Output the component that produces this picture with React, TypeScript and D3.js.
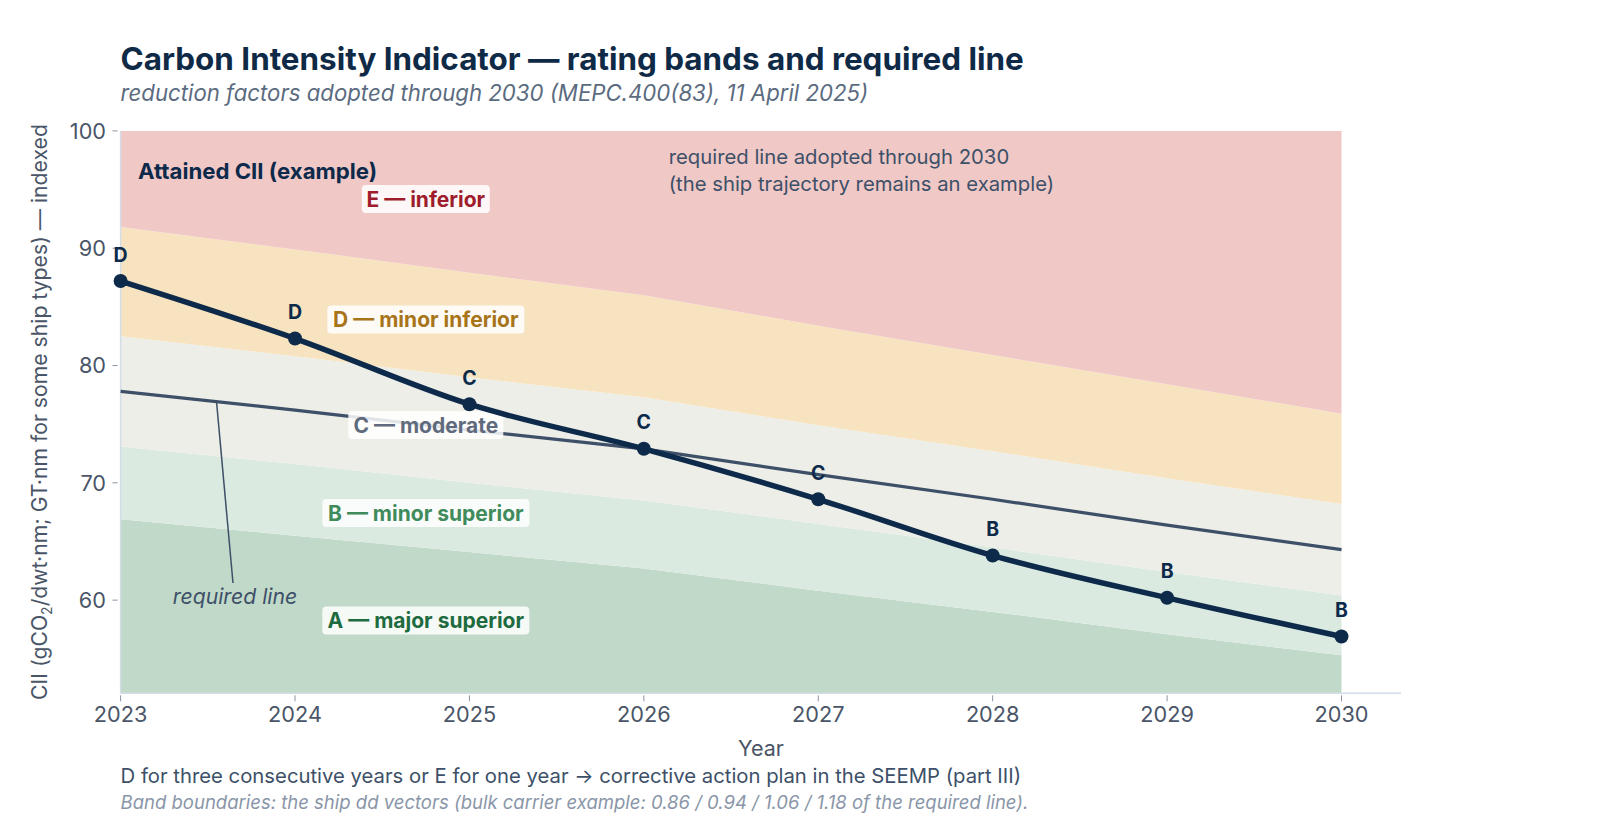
import React from "react";
import * as d3 from "d3";

const years = [2023, 2024, 2025, 2026, 2027, 2028, 2029, 2030];
const requiredLine = [77.8, 76.2, 74.5, 72.9, 70.7, 68.6, 66.4, 64.3];
const boundAB = [66.9, 65.5, 64.1, 62.7, 60.8, 59.0, 57.1, 55.3];
const boundBC = [73.1, 71.6, 70.0, 68.5, 66.5, 64.5, 62.4, 60.4];
const boundCD = [82.5, 80.8, 79.0, 77.3, 74.9, 72.7, 70.4, 68.2];
const boundDE = [91.8, 89.9, 87.9, 86.0, 83.4, 80.9, 78.4, 75.9];
const attained = [87.2, 82.3, 76.7, 72.9, 68.6, 63.8, 60.2, 56.9];
const attainedRating = ["D", "D", "C", "C", "C", "B", "B", "B"];
const yTicks = [60, 70, 80, 90, 100];
const bandNames = ["A — major superior", "B — minor superior", "C — moderate", "D — minor inferior", "E — inferior"];
const bandFills = ["#c1d9c9", "#dbeae0", "#eeeee8", "#f7e3bf", "#f0c8c6"];
const bandTextColors = ["#1e6b40", "#3f8b5b", "#5f6b7c", "#a8741a", "#9e1c2c"];

const W = 1600;
const H = 819;
const FONT = "Inter, 'Noto Sans', sans-serif";

export default function App() {
  const x = d3.scaleLinear().domain([2023, 2030]).range([120.6, 1341.5]);
  const y = d3.scaleLinear().domain([52.06, 100]).range([693.3, 130.9]);
  const yMin = y.domain()[0];
  const yMax = y.domain()[1];
  const [left, bottom, top] = [x(2023), y(yMin), y(yMax)];

  const lower = [years.map(() => yMin), boundAB, boundBC, boundCD, boundDE];
  const upper = [boundAB, boundBC, boundCD, boundDE, years.map(() => yMax)];

  const bandPaths = bandNames.map((_, b) =>
    d3
      .area<number>()
      .x((yr) => x(yr))
      .y0((_, i) => y(lower[b][i]))
      .y1((_, i) => y(upper[b][i]))(years) as string
  );

  const reqPath = d3
    .line<number>()
    .x((_, i) => x(years[i]))
    .y((d) => y(d))(requiredLine) as string;

  const attPath = d3
    .line<number>()
    .x((_, i) => x(years[i]))
    .y((d) => y(d))
    .curve(d3.curveMonotoneX)(attained) as string;

  const labelYear = 2024.75;
  const interp = (arr: number[], yr: number) => {
    const i = Math.floor(yr - 2023);
    const t = yr - 2023 - i;
    return arr[i] * (1 - t) + arr[i + 1] * t;
  };
  const labelW = [207, 207, 155, 197, 128];

  const leaderYear = 2023.55;

  return (
    <svg
      width={W}
      height={H}
      style={{ position: "absolute", left: 0, top: 0, background: "#fff" }}
      fontFamily={FONT}
    >
      <text x={120.6} y={70} fontSize={31.4} fontWeight={700} fill="#0f2a47">
        Carbon Intensity Indicator — rating bands and required line
      </text>
      <text x={120.6} y={101} fontSize={22.2} fontStyle="italic" fill="#5b6b80">
        reduction factors adopted through 2030 (MEPC.400(83), 11 April 2025)
      </text>

      {bandPaths.map((p, i) => (
        <path key={i} d={p} fill={bandFills[i]} />
      ))}

      {/* axes */}
      <line x1={left} x2={left} y1={top} y2={bottom} stroke="#d3dde8" strokeWidth={1.5} />
      <line x1={left} x2={1401} y1={bottom} y2={bottom} stroke="#d3dde8" strokeWidth={1.5} />
      {yTicks.map((t) => (
        <g key={t}>
          <line x1={112.5} x2={117.5} y1={y(t)} y2={y(t)} stroke="#8a94a3" strokeWidth={1} />
          <text x={106} y={y(t)} dy="0.36em" textAnchor="end" fontSize={21.7} fill="#4a5568">
            {t}
          </text>
        </g>
      ))}
      {years.map((t) => (
        <g key={t}>
          <line x1={x(t)} x2={x(t)} y1={bottom + 2} y2={bottom + 8} stroke="#8a94a3" strokeWidth={1} />
          <text x={x(t)} y={722} textAnchor="middle" fontSize={21.7} fill="#4a5568">
            {t}
          </text>
        </g>
      ))}
      <text x={761} y={755.5} textAnchor="middle" fontSize={21.5} fill="#4a5568">
        Year
      </text>
      <text
        transform={`translate(47,412) rotate(-90)`}
        textAnchor="middle"
        fontSize={21.2}
        fill="#4a5568"
      >
        CII (gCO<tspan fontSize={14} dy={5}>2</tspan>
        <tspan dy={-5}>/dwt·nm; GT·nm for some ship types) — indexed</tspan>
      </text>

      {/* required line */}
      <path d={reqPath} fill="none" stroke="#3d5068" strokeWidth={3.2} />

      {/* band labels */}
      {bandNames.map((name, i) => {
        const lo = interp(lower[i], labelYear);
        const hi = interp(upper[i], labelYear);
        const cy = y((lo + hi) / 2);
        const cx = x(labelYear);
        return (
          <g key={name}>
            <rect
              x={cx - labelW[i] / 2}
              y={cy - 14}
              width={labelW[i]}
              height={28}
              rx={4}
              fill="#ffffff"
              fillOpacity={0.85}
            />
            <text x={cx} y={cy} dy="0.36em" textAnchor="middle" fontSize={21} fontWeight={700} fill={bandTextColors[i]}>
              {name}
            </text>
          </g>
        );
      })}

      {/* attained */}
      <path d={attPath} fill="none" stroke="#0d2a4a" strokeWidth={5.5} strokeLinejoin="round" />
      {attained.map((v, i) => (
        <g key={i}>
          <circle cx={x(years[i])} cy={y(v)} r={7} fill="#0d2a4a" />
          <text x={x(years[i])} y={y(v) - 19.5} textAnchor="middle" fontSize={19.5} fontWeight={700} fill="#0d2a4a">
            {attainedRating[i]}
          </text>
        </g>
      ))}

      <text x={138} y={179} fontSize={22.2} fontWeight={700} fill="#0d2a4a">
        Attained CII (example)
      </text>

      <text x={668.7} y={163.6} fontSize={20.3} fill="#3d5068">
        required line adopted through 2030
      </text>
      <text x={668.7} y={191.2} fontSize={20.3} fill="#3d5068">
        (the ship trajectory remains an example)
      </text>

      {/* required line annotation */}
      <line
        x1={x(leaderYear)}
        y1={y(interp(requiredLine, leaderYear))}
        x2={233}
        y2={583}
        stroke="#3d5068"
        strokeWidth={1.5}
      />
      <text x={235} y={604} textAnchor="middle" fontSize={21.2} fontStyle="italic" fill="#3d5068">
        required line
      </text>

      <text x={120.6} y={783} fontSize={20.3} fill="#3d5068">
        D for three consecutive years or E for one year → corrective action plan in the SEEMP (part III)
      </text>
      <text x={120.6} y={809} fontSize={18.5} fontStyle="italic" fill="#8a96a8">
        Band boundaries: the ship dd vectors (bulk carrier example: 0.86 / 0.94 / 1.06 / 1.18 of the required line).
      </text>
    </svg>
  );
}
